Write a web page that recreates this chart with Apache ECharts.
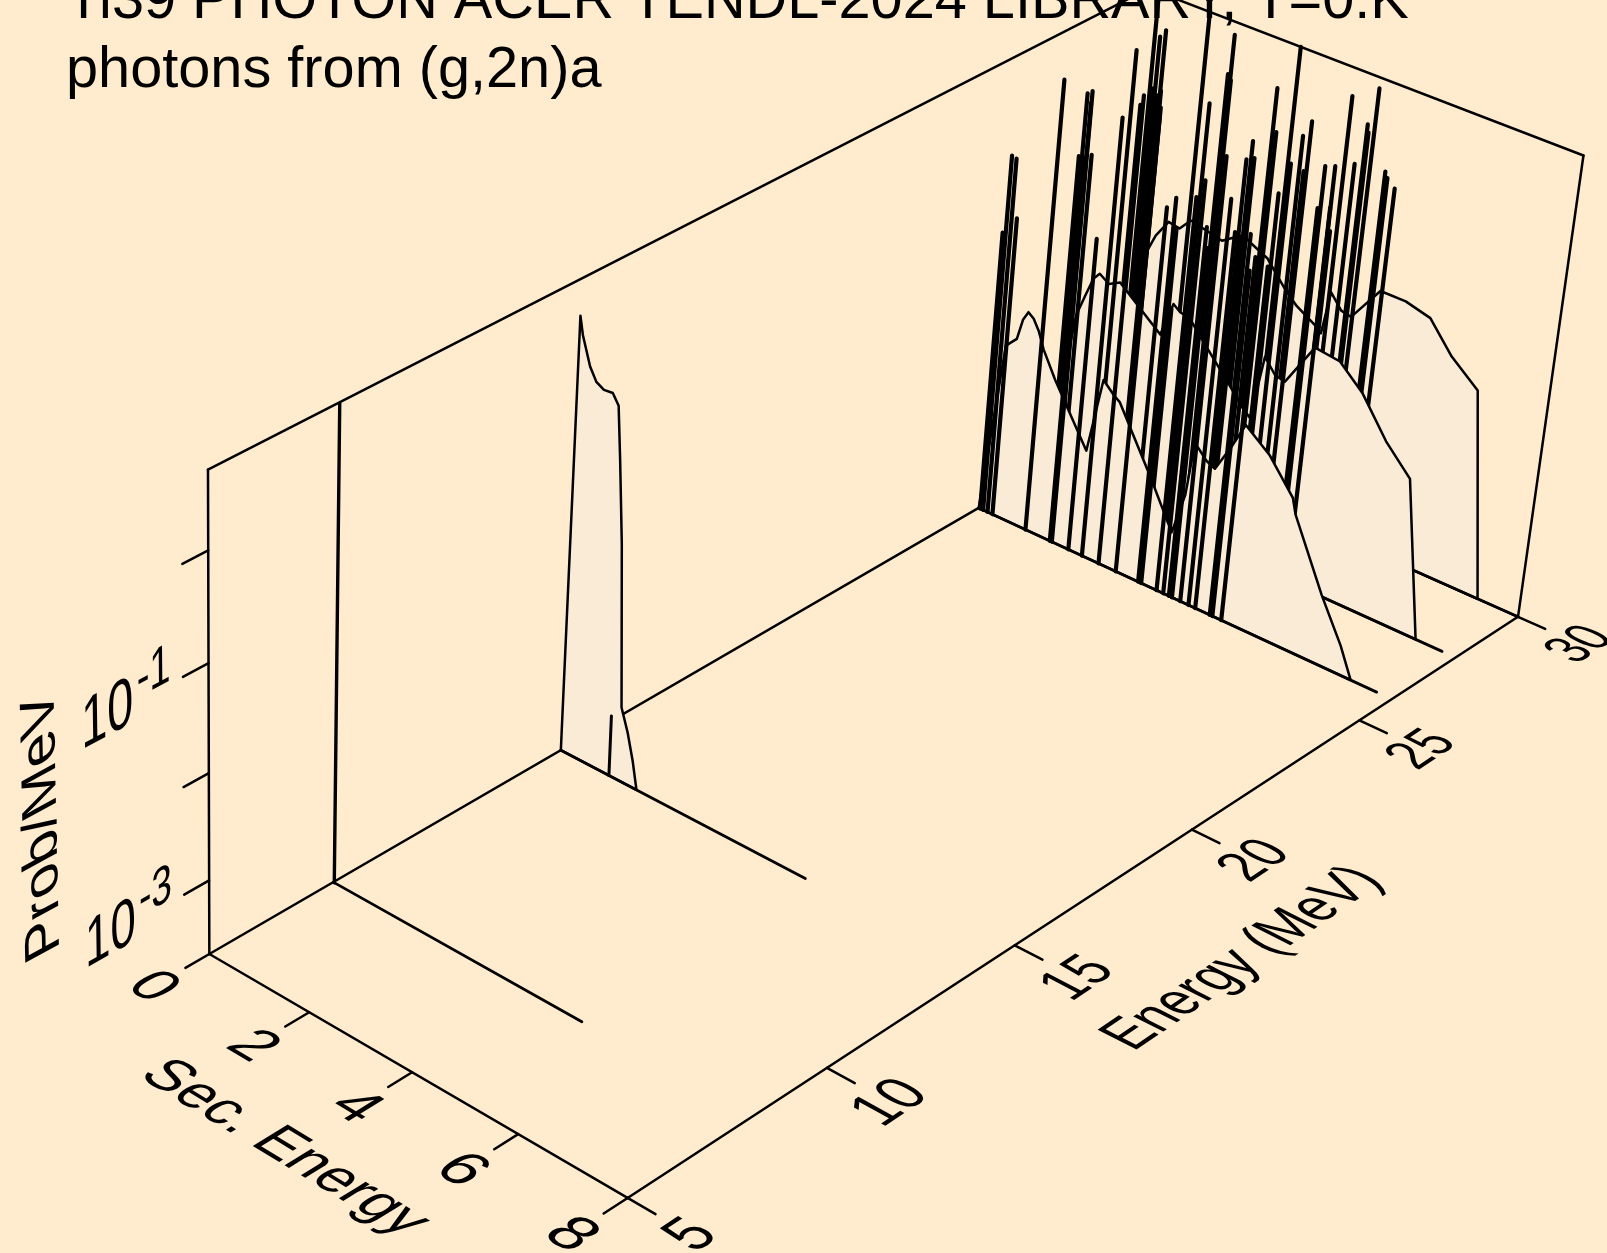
<!DOCTYPE html>
<html><head><meta charset="utf-8"><style>html,body{margin:0;padding:0;background:#FFEBCD}#c{width:1607px;height:1253px}</style>
<script src="https://cdn.jsdelivr.net/npm/echarts@6/dist/echarts.min.js"></script></head>
<body><div id="c"></div>
<script>
// ---- tick values ----
const secTicks = [0, 2, 4, 6, 8];
const energyTicks = [5, 10, 15, 20, 25, 30];
const logProbTicks = [-3, -2, -1, 0];
const logProbLabelled = [-3, -1];
const secRange = [0, 8], energyRange = [5, 30], logProbRange = [-3.7, 0.7];

// ---- spectra: incident energy, envelope (sec energy, log10 prob), baseline end, discrete lines ----
const energy30 = 30, energy28 = 28, energy26 = 26, energy14 = 14, energy8 = 8.07;

const env30Sec = [0,0.46,0.58,0.8,1.02,1.22,1.84,2.21,2.72,3.09,3.35,3.7,3.85,3.95,4.17,4.36,4.83,5.3,5.77,6.23,6.76,7.25];
const env30Log = [-3.7,-1.73,-1.57,-1.39,-1.41,-1.29,-1.36,-1.23,-1.35,-1.56,-1.68,-1.78,-1.84,-1.42,-1.55,-1.57,-1.22,-1.22,-1.28,-1.55,-1.76,-3.7];
const line30Sec = [0.05,0.1,0.2,0.26,0.3,0.35,0.4,0.44,1.18,1.63,1.68,2.22,2.28,2.56,2.9,3.2,3.56,3.76,3.8,3.92,4.1,4.25,4.28,4.38,4.66,4.71,4.86];
const line30Log = [-0.4,-0.3,0.7,-0.2,0.3,-0.25,0.38,-0.35,0.7,0.2,0.58,-0.32,-0.47,0.25,0.7,-0.41,-0.71,-0.25,-0.86,0.44,-0.16,0.24,0.17,0.6,-0.12,-0.17,-0.24];

const env28Sec = [0,0.37,0.52,0.64,0.75,0.94,1.15,2.0,2.19,2.33,2.52,2.77,3.35,3.65,3.82,3.97,4.19,4.38,4.85,5.32,5.78,6.3,6.8,7.26];
const env28Log = [-3.7,-2.05,-1.81,-1.63,-1.56,-1.62,-1.56,-1.89,-1.55,-1.6,-1.62,-1.76,-2.07,-2.24,-2.31,-1.68,-1.81,-1.83,-1.4,-1.43,-1.63,-1.98,-2.23,-3.7];
const line28Sec = [0.15,0.21,0.3,0.39,1.05,1.53,1.57,1.89,2.16,2.48,2.82,3.25,3.31,3.6,3.73,3.84,3.89,4.05,4.21,4.34,4.61,4.66,4.83];
const line28Log = [-0.54,0.07,0.11,-0.48,0.64,0.2,0.36,-0.68,-1.6,0.42,0.7,0.05,-0.68,-0.8,0.4,-0.84,-0.14,0.17,0.46,0.62,-0.13,0.27,-0.08];

const env26Sec = [0,0.27,0.47,0.56,0.65,0.76,0.88,1.0,1.27,1.98,2.18,2.4,2.52,3.23,3.72,3.9,3.98,4.22,4.39,4.67,4.86,5.34,5.84,5.92,6.55,6.99,7.24];
const env26Log = [-3.7,-2.01,-1.9,-1.69,-1.6,-1.64,-1.74,-1.89,-2.13,-2.67,-1.93,-2.03,-2.07,-2.65,-3.08,-2.67,-2.14,-2.26,-2.3,-2.0,-1.77,-1.95,-2.25,-2.39,-3.03,-3.42,-3.7];
const line26Sec = [0.03,0.09,0.18,0.28,0.95,1.44,1.48,1.81,2.08,2.41,2.75,3.19,3.25,3.55,3.68,3.79,3.85,4.01,4.17,4.3,4.58,4.63,4.8];
const line26Log = [-0.96,-0.21,-0.22,-0.77,0.67,0.04,0.56,-0.65,0.54,0.64,0.7,0.02,-0.25,0.1,0.28,-0.13,-0.31,0.57,0.21,-0.07,-0.03,-0.36,0.4];

const env14Sec = [0,0.07,0.13,0.29,0.42,0.57,0.74,0.86,0.93,1.03,1.16,1.3,1.42,1.52];
const env14Log = [-3.7,0.4,0.24,-0.01,-0.12,-0.16,-0.15,-0.24,-0.71,-1.47,-2.99,-3.2,-3.44,-3.7];
const line14Sec = [0.97];
const line14Log = [-3.12];

const line8Sec = [0.02];
const line8Log = [0.7];

const baseEnd30 = 8, baseEnd28 = 7.75, baseEnd26 = 7.72, baseEnd14 = 4.8, baseEnd8 = 4.87;

// ---- view calibration of the perspective box: world [sec, energy, log prob] -> page position ----
const viewWorld = [
 [0,5,-3.7],[8,5,-3.7],[8,30,-3.7],[0,30,-3.7],[0,5,0.7],[8,30,0.7],[0,30,0.7],
 [0,5,-3],[0,5,-2],[0,5,-1],[0,5,0],
 [8,10,-3.7],[8,15,-3.7],[8,20,-3.7],[8,25,-3.7],
 [2,5,-3.7],[4,5,-3.7],[6,5,-3.7],
 [0,8,-3.7],[0,14,-3.7],[0,26,-3.7],[0,28,-3.7],[0.02,8,0.7],
 [0,5,-3.7],[0,5,-3.7],[0,5,0.7],[0,5,0.7]];
const viewPage = [
 [208,954],[627,1196],[1517,618],[1105,435.6],[208,470.4],[1586.5,156.8],[1142.8,-13.3],
 [208,881.4],[208,775.9],[208,664],[208,550],
 [826,1067],[1013.6,945],[1192,829],[1360,720.5],
 [308.5,1012.6],[413,1073],[517.6,1134.5],
 [335,881.4],[561.7,750],[979,508.4],[1048,468.4],[341.3,401.8],
 [208,954],[208,954],[208,470.4],[208,470.4]];

function nrm(w){return [(w[0]-secRange[0])/(secRange[1]-secRange[0]),(w[1]-energyRange[0])/(energyRange[1]-energyRange[0]),(w[2]-logProbRange[0])/(logProbRange[1]-logProbRange[0])];}
function solveView(){
  const A=[],B=[];
  viewWorld.forEach((w,i)=>{const [a,b,c]=nrm(w);const X=viewPage[i][0]/1000,Y=viewPage[i][1]/1000;
    A.push([a,b,c,1,0,0,0,0,-X*a,-X*b,-X*c]);B.push(X);
    A.push([0,0,0,0,a,b,c,1,-Y*a,-Y*b,-Y*c]);B.push(Y);});
  const n=11,N=[];for(let i=0;i<n;i++){N.push(new Array(n+1).fill(0));for(let j=0;j<n;j++)for(let k=0;k<A.length;k++)N[i][j]+=A[k][i]*A[k][j];for(let k=0;k<A.length;k++)N[i][n]+=A[k][i]*B[k];}
  for(let i=0;i<n;i++){let p=i;for(let r=i+1;r<n;r++)if(Math.abs(N[r][i])>Math.abs(N[p][i]))p=r;[N[i],N[p]]=[N[p],N[i]];
    for(let r=0;r<n;r++){if(r===i)continue;const f=N[r][i]/N[i][i];for(let c=i;c<=n;c++)N[r][c]-=f*N[i][c];}}
  return N.map((r,i)=>r[n]/r[i]);
}
const H=solveView();
function project(w){const [a,b,c]=nrm(w);const d=H[8]*a+H[9]*b+H[10]*c+1;
  return [1000*(H[0]*a+H[1]*b+H[2]*c+H[3])/d,1000*(H[4]*a+H[5]*b+H[6]*c+H[7])/d];}

const INK='#000000',SHEET='#FAEBD7',FONT='"Liberation Sans",Arial,sans-serif';
function P(api,s,e,z){return api.coord(project([s,e,z]));}
function seg(api,a,b,w){const p=api.coord(project(a)),q=api.coord(project(b));
  return {type:'line',shape:{x1:p[0],y1:p[1],x2:q[0],y2:q[1]},style:{stroke:INK,lineWidth:w,lineCap:'round',fill:null}};}

// text lying in a plane of the box: baseline and glyph-up given as world vectors per em
function text3D(api,txt,anchor,wb,wu,F){
  F=F||60;
  const o=project(anchor),pb=project([anchor[0]+wb[0],anchor[1]+wb[1],anchor[2]+wb[2]]),pu=project([anchor[0]+wu[0],anchor[1]+wu[1],anchor[2]+wu[2]]);
  const a=(pb[0]-o[0])/F,c=(pb[1]-o[1])/F,b=-(pu[0]-o[0])/F,d=-(pu[1]-o[1])/F;
  const E=(a+d)/2,Fx=(a-d)/2,G=(c+b)/2,Hh=(c-b)/2;
  const Q=Math.hypot(E,Hh),R=Math.hypot(Fx,G),a1=Math.atan2(G,Fx),a2=Math.atan2(Hh,E);
  const th=(a2-a1)/2,ph=(a2+a1)/2;const c0=api.coord(o);
  return {type:'group',x:c0[0],y:c0[1],rotation:-ph,scaleX:Q+R,scaleY:Q-R,
    children:[{type:'text',rotation:-th,style:{text:txt,fontSize:F,fontFamily:FONT,fill:INK,align:'center',verticalAlign:'middle'}}]};
}

function frameItem(p,api){
  const [s0,s1]=secRange,[e0,e1]=energyRange,[z0,z1]=logProbRange,c=[];
  const L=(a,b)=>c.push(seg(api,a,b,2.5));
  L([s0,e0,z0],[s0,e0,z1]);L([s0,e0,z1],[s0,e1,z1]);L([s0,e1,z1],[s1,e1,z1]);L([s1,e1,z1],[s1,e1,z0]);
  L([s0,e1,z0],[s1,e1,z0]);L([s0,e0,z0],[s0,e1,z0]);
  return {type:'group',children:c};
}
function axesItem(p,api){
  const [s0,s1]=secRange,[e0,e1]=energyRange,[z0,z1]=logProbRange,c=[];
  const L=(a,b)=>c.push(seg(api,a,b,2.5));
  L([s0,e0,z0],[s1,e0,z0]);L([s1,e0,z0],[s1,e1,z0]);
  secTicks.forEach(t=>{L([t,e0,z0],[t,e0-0.58,z0]);
    c.push(text3D(api,String(t),[t,3.62,z0],[1.0,0,0],[0,1.25,0]));});
  energyTicks.forEach(t=>{L([s1,t,z0],[s1+0.5,t,z0]);
    c.push(text3D(api,String(t),[9.15,t,z0],[0,1.15,0],[-1,0,0]));});
  logProbTicks.forEach(t=>{L([s0,e0,t],[s0,e0-0.6,t]);});
  logProbLabelled.forEach(t=>{
    c.push(text3D(api,'10',[s0,2.65,t+0.01],[0,1.08,0],[0,0,0.62]));
    c.push(text3D(api,String(t),[s0,3.72,t+0.17],[0,0.88,0],[0,0,0.5]));});
  c.push(text3D(api,'Sec. Energy',[3.96,2,z0],[0.93,0,0],[0,1.2,0]));
  c.push(text3D(api,'Energy (MeV)',[10.5,17.45,z0],[0,1.16,0],[-1,0,0]));
  c.push(text3D(api,'Prob/MeV',[s0,1.15,-1.64],[0,0,0.53],[0,-1.1,0]));
  return {type:'group',children:c};
}
function spectrumItem(E,envSec,envLog,lineSec,lineLog,baseEnd,lw){
  return function(p,api){
    const c=[],z0=logProbRange[0];
    if(envSec.length){
      const pts=envSec.map((s,i)=>P(api,s,E,envLog[i]));
      c.push({type:'polygon',shape:{points:pts},style:{fill:SHEET,stroke:INK,lineWidth:2.5,lineJoin:'round'}});
    }
    lineSec.forEach((s,i)=>c.push(seg(api,[s,E,z0],[s,E,lineLog[i]],lw)));
    c.push(seg(api,[0,E,z0],[baseEnd,E,z0],2.8));
    return {type:'group',children:c};
  };
}
const layer=(fn,z)=>({type:'custom',coordinateSystem:'cartesian2d',renderItem:fn,data:[[0,0]],silent:true,clip:false,animation:false,z:z,encode:{x:0,y:1}});

const chart=echarts.init(document.getElementById('c'),null,{renderer:'canvas'});
chart.setOption({
  animation:false,backgroundColor:'#FFEBCD',
  title:{text:'Ti39 PHOTON ACER TENDL-2024 LIBRARY, T=0.K\nphotons from (g,2n)a',left:66,top:-32,padding:0,
    textStyle:{fontFamily:FONT,fontSize:57.7,fontWeight:'normal',color:INK,lineHeight:69}},
  grid:{left:0,right:0,top:0,bottom:0,containLabel:false},
  xAxis:{type:'value',min:0,max:1607,show:false},
  yAxis:{type:'value',min:0,max:1253,inverse:true,show:false},
  series:[
    layer(frameItem,2),
    layer(spectrumItem(energy30,env30Sec,env30Log,line30Sec,line30Log,baseEnd30,4.2),3),
    layer(spectrumItem(energy28,env28Sec,env28Log,line28Sec,line28Log,baseEnd28,4.2),4),
    layer(spectrumItem(energy26,env26Sec,env26Log,line26Sec,line26Log,baseEnd26,4.2),5),
    layer(spectrumItem(energy14,env14Sec,env14Log,line14Sec,line14Log,baseEnd14,3),6),
    layer(spectrumItem(energy8,[],[],line8Sec,line8Log,baseEnd8,3.4),7),
    layer(axesItem,8)
  ]
});
</script></body></html>
